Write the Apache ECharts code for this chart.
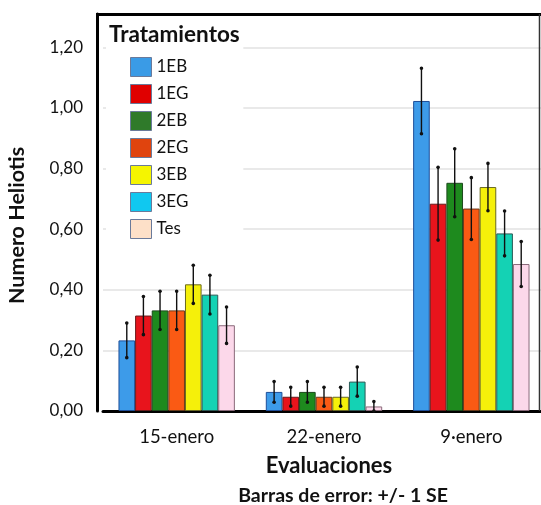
<!DOCTYPE html>
<html>
<head>
<meta charset="utf-8">
<script src="https://cdn.jsdelivr.net/npm/echarts@6/dist/echarts.min.js"></script>
<style>
  html, body { margin: 0; padding: 0; background: #fff; }
  #chart { width: 541px; height: 505px; }
</style>
</head>
<body>
<div id="chart"></div>
<script>
// categories and treatments
const categories = ["15-enero", "22-enero", "9·enero"];
const treatments = ["1EB", "1EG", "2EB", "2EG", "3EB", "3EG", "Tes"];
const yTicks = [0, 0.2, 0.4, 0.6, 0.8, 1.0, 1.2];

// mean values per treatment (one value per evaluation)
const mean1EB = [0.233, 0.063, 1.023];
const mean1EG = [0.315, 0.047, 0.684];
const mean2EB = [0.332, 0.063, 0.753];
const mean2EG = [0.332, 0.047, 0.668];
const mean3EB = [0.418, 0.047, 0.739];
const mean3EG = [0.384, 0.097, 0.586];
const meanTes = [0.283, 0.015, 0.485];

// standard errors
const se1EB = [0.057, 0.034, 0.108];
const se1EG = [0.063, 0.031, 0.120];
const se2EB = [0.063, 0.034, 0.112];
const se2EG = [0.063, 0.031, 0.102];
const se3EB = [0.063, 0.031, 0.078];
const se3EG = [0.064, 0.048, 0.074];
const seTes = [0.060, 0.016, 0.074];

const allMeans = [mean1EB, mean1EG, mean2EB, mean2EG, mean3EB, mean3EG, meanTes];
const allSE = [se1EB, se1EG, se2EB, se2EG, se3EB, se3EG, seTes];

const barColors = ["#3d9be9", "#e8141c", "#1e8a1e", "#fa5a14", "#f5f00a", "#14d2b4", "#fcd8ea"];
const barBorders = ["#1f4f9a", "#6a1a1a", "#1d4a1d", "#6a3a1a", "#6a6a20", "#2a5a55", "#8a6a7a"];
const legendColors = ["#3a9be6", "#e00000", "#2f7a2a", "#e0440e", "#f5f500", "#10c8f0", "#fde0c8"];

const catGap = 0.21;
const FONT = "Lato";

const chart = echarts.init(document.getElementById("chart"));

const barSeries = treatments.map((t, i) => ({
  name: t,
  type: "bar",
  data: allMeans[i],
  barGap: "0%",
  barCategoryGap: (catGap * 100) + "%",
  itemStyle: { color: barColors[i], borderColor: barBorders[i], borderWidth: 1 },
  z: 2
}));

const errData = [];
treatments.forEach((t, i) => {
  categories.forEach((c, j) => {
    errData.push([j, i, allMeans[i][j], allSE[i][j]]);
  });
});

const errSeries = {
  name: "SE",
  type: "custom",
  z: 5,
  encode: { x: 0, y: 2 },
  data: errData,
  renderItem(params, api) {
    const band = api.size([1, 0])[0];
    const w = band * (1 - catGap) / treatments.length;
    const cat = api.value(0);
    const s = api.value(1);
    const m = api.value(2);
    const e = api.value(3);
    const c = api.coord([cat, m]);
    const x = c[0] + (s - (treatments.length - 1) / 2) * w;
    const yTop = api.coord([cat, m + e])[1];
    const yBot = api.coord([cat, Math.max(m - e, 0)])[1];
    const st = { stroke: "#111", lineWidth: 1.4 };
    return {
      type: "group",
      children: [
        { type: "line", shape: { x1: x, y1: yTop, x2: x, y2: yBot }, style: st },
        { type: "circle", shape: { cx: x, cy: yTop, r: 1.8 }, style: { fill: "#111" } },
        { type: "circle", shape: { cx: x, cy: yBot, r: 1.8 }, style: { fill: "#111" } }
      ]
    };
  }
};

chart.setOption({
  animation: false,
  textStyle: { fontFamily: FONT },
  title: {
    text: "Tratamientos",
    left: 109,
    top: 23,
    padding: 0,
    textStyle: { fontFamily: FONT, fontSize: 22.5, fontWeight: "bold", color: "#111" }
  },
  legend: {
    orient: "vertical",
    left: 106,
    top: 22,
    padding: [35, 55, 12, 24],
    backgroundColor: "#fff",
    icon: "rect",
    itemWidth: 21,
    itemHeight: 19,
    itemGap: 7,
    textStyle: { fontFamily: FONT, fontSize: 17, color: "#111" },
    data: treatments.map((t, i) => ({
      name: t,
      itemStyle: { color: legendColors[i], borderColor: "#6a7a9a", borderWidth: 1 }
    }))
  },
  grid: { left: 103, right: -4, top: 14, bottom: 94, outerBoundsMode: "none", containLabel: false },
  xAxis: {
    type: "category",
    data: categories,
    axisLine: { lineStyle: { color: "#000", width: 3 } },
    axisTick: { show: false },
    axisLabel: { fontFamily: FONT, fontSize: 18.5, color: "#111", margin: 17 },
    name: "{a|Evaluaciones}\n{b|Barras de error: +/- 1 SE}",
    nameLocation: "middle",
    nameGap: 41,
    nameTextStyle: {
      rich: {
        a: { fontFamily: FONT, fontSize: 22, fontWeight: "bold", color: "#111", lineHeight: 28, padding: [0, 0, 0, 10] },
        b: { fontFamily: FONT, fontSize: 19.5, fontWeight: "bold", color: "#111", lineHeight: 32, padding: [0, 0, 0, 38] }
      }
    }
  },
  yAxis: {
    type: "value",
    min: 0,
    max: 1.31,
    interval: 0.2,
    offset: 6,
    axisLine: { show: true, lineStyle: { color: "#000", width: 3 } },
    axisTick: { show: false },
    splitLine: { lineStyle: { color: "#e2e2e2", width: 1.5 } },
    axisLabel: {
      fontFamily: FONT,
      fontSize: 17,
      color: "#111",
      margin: 14,
      formatter: v => {
        const hit = yTicks.find(t => Math.abs(t - v) < 1e-6);
        return hit === undefined ? "" : hit.toFixed(2).replace(".", ",");
      }
    },
    name: "Numero Heliotis",
    nameLocation: "middle",
    nameGap: 69,
    nameTextStyle: { fontFamily: FONT, fontSize: 21.5, fontWeight: "bold", color: "#111", padding: [0, 26, 0, 0] }
  },
  graphic: [
    { type: "line", shape: { x1: 96, y1: 14.5, x2: 541, y2: 14.5 }, style: { stroke: "#000", lineWidth: 3 }, z: 10 },
    { type: "line", shape: { x1: 539.5, y1: 14, x2: 539.5, y2: 411 }, style: { stroke: "#333", lineWidth: 1.5 }, z: 10 }
  ],
  series: [...barSeries, errSeries]
});

window.addEventListener("resize", () => chart.resize());
</script>
</body>
</html>
